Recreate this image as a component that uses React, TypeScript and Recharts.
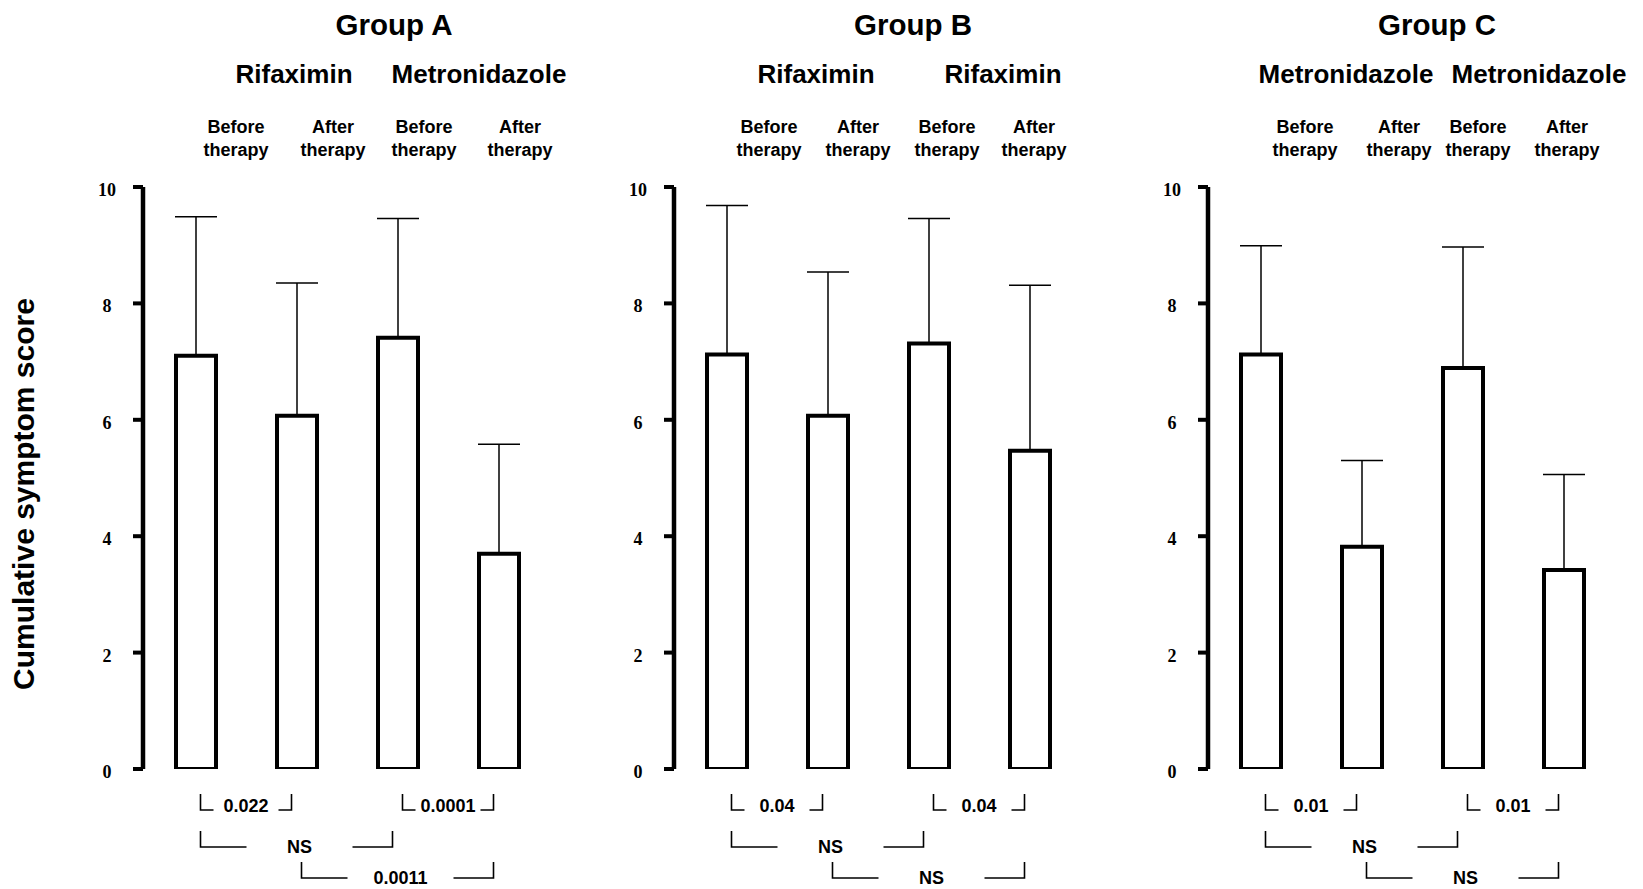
import React from 'react';
import { BarChart, Bar, XAxis, YAxis, ErrorBar } from 'recharts';

// ---------- data ----------
const categories = ['Before therapy', 'After therapy', 'Before therapy', 'After therapy'];
const groupTitles = ['Group A', 'Group B', 'Group C'];
const drugLabelsA = ['Rifaximin', 'Metronidazole'];
const drugLabelsB = ['Rifaximin', 'Rifaximin'];
const drugLabelsC = ['Metronidazole', 'Metronidazole'];

const groupAMeans = [7.1, 6.07, 7.41, 3.7];
const groupASD = [2.39, 2.28, 2.05, 1.88];
const groupBMeans = [7.12, 6.07, 7.31, 5.47];
const groupBSD = [2.56, 2.47, 2.15, 2.84];
const groupCMeans = [7.12, 3.82, 6.89, 3.42];
const groupCSD = [1.87, 1.48, 2.08, 1.64];

const yTicks = [0, 2, 4, 6, 8, 10];

const groupABrackets = [
  { from: 0, to: 1, label: '0.022', row: 0 },
  { from: 2, to: 3, label: '0.0001', row: 0 },
  { from: 0, to: 2, label: 'NS', row: 1 },
  { from: 1, to: 3, label: '0.0011', row: 2 },
];
const groupBBrackets = [
  { from: 0, to: 1, label: '0.04', row: 0 },
  { from: 2, to: 3, label: '0.04', row: 0 },
  { from: 0, to: 2, label: 'NS', row: 1 },
  { from: 1, to: 3, label: 'NS', row: 2 },
];
const groupCBrackets = [
  { from: 0, to: 1, label: '0.01', row: 0 },
  { from: 2, to: 3, label: '0.01', row: 0 },
  { from: 0, to: 2, label: 'NS', row: 1 },
  { from: 1, to: 3, label: 'NS', row: 2 },
];

const yLabel = 'Cumulative symptom score';

// ---------- layout ----------
const AXIS_W = 60;
const PLOT_TOP = 187;
const PLOT_H = 582;
const PLOT_W = 406;
const PAD_L = 2;
const BAND = (PLOT_W - PAD_L) / 4;
const CHART_TOP = 165;
const M_TOP = PLOT_TOP - CHART_TOP;
const M_RIGHT = 12;
const M_BOTTOM = 22;

const panels = [
  {
    axisX: 143, title: groupTitles[0], drugs: drugLabelsA, means: groupAMeans, sds: groupASD, brackets: groupABrackets,
    titleX: 394, drugX: [294, 479], therapyX: [236, 333, 424, 520],
  },
  {
    axisX: 674, title: groupTitles[1], drugs: drugLabelsB, means: groupBMeans, sds: groupBSD, brackets: groupBBrackets,
    titleX: 913, drugX: [816, 1003], therapyX: [769, 858, 947, 1034],
  },
  {
    axisX: 1208, title: groupTitles[2], drugs: drugLabelsC, means: groupCMeans, sds: groupCSD, brackets: groupCBrackets,
    titleX: 1437, drugX: [1346, 1539], therapyX: [1305, 1399, 1478, 1567],
  },
];

const SANS = "'Liberation Sans', Arial, Helvetica, sans-serif";
const SERIF = "'Liberation Serif', 'Times New Roman', serif";

const ROW_LINE_Y = [810, 847, 878];
const ROW_TEXT_Y = [812, 853, 884];

const YTick = (props: any) => {
  const { x, y, payload } = props;
  return (
    <text x={x - 26} y={y + 3} textAnchor="middle" dominantBaseline="central"
      fontFamily={SERIF} fontWeight="bold" fontSize={18} fill="#000">
      {payload.value}
    </text>
  );
};

function Panel({ p }: { p: any }) {
  const data = categories.map((c, i) => ({
    name: `${c}-${i}`,
    value: p.means[i],
    err: [0, p.sds[i]],
  }));
  return (
    <div style={{ position: 'absolute', left: p.axisX - AXIS_W, top: CHART_TOP }}>
      <BarChart
        width={AXIS_W + PLOT_W + M_RIGHT}
        height={M_TOP + PLOT_H + M_BOTTOM}
        data={data}
        margin={{ top: M_TOP, right: M_RIGHT, bottom: M_BOTTOM, left: 0 }}
      >
        <XAxis dataKey="name" hide padding={{ left: PAD_L, right: 0 }} />
        <YAxis
          width={AXIS_W}
          domain={[0, 10]}
          ticks={yTicks}
          interval={0}
          allowDataOverflow
          axisLine={{ stroke: '#000', strokeWidth: 4.5 }}
          tickLine={{ stroke: '#000', strokeWidth: 4 }}
          tickSize={10}
          tickMargin={0}
          tick={<YTick />}
        />
        <Bar dataKey="value" fill="#fff" stroke="#000" strokeWidth={4} barSize={40} isAnimationActive={false}>
          <ErrorBar dataKey="err" width={21} stroke="#000" strokeWidth={1.5} direction="y" />
        </Bar>
      </BarChart>
    </div>
  );
}

function Brackets({ p }: { p: any }) {
  const center = (i: number) => p.axisX + PAD_L + BAND * (i + 0.5);
  return (
    <g>
      {p.brackets.map((b: any, k: number) => {
        const L = center(b.from) + 5;
        const R = center(b.to) - 5;
        const ly = ROW_LINE_Y[b.row];
        const segL = b.row === 0 ? 13 : 46;
        const segR = b.row === 0 ? 13 : 40;
        const tx = (L + R) / 2 + (b.row === 0 ? 0 : 3);
        return (
          <g key={k}>
            <polyline points={`${L},${ly - 16} ${L},${ly} ${L + segL},${ly}`} fill="none" stroke="#000" strokeWidth={1.6} />
            <polyline points={`${R - segR},${ly} ${R},${ly} ${R},${ly - 16}`} fill="none" stroke="#000" strokeWidth={1.6} />
            <text x={tx} y={ROW_TEXT_Y[b.row]} textAnchor="middle" fontFamily={SANS} fontWeight="bold" fontSize={18} fill="#000">
              {b.label}
            </text>
          </g>
        );
      })}
    </g>
  );
}

export default function App() {
  return (
    <div style={{ position: 'absolute', left: 0, top: 0, width: 1643, height: 889, background: '#fff', overflow: 'hidden' }}>
      {panels.map((p, i) => (
        <Panel key={i} p={p} />
      ))}
      <svg width={1643} height={889} style={{ position: 'absolute', left: 0, top: 0, pointerEvents: 'none' }}>
        <text transform="translate(34,494) rotate(-90)" textAnchor="middle" fontFamily={SANS} fontWeight="bold" fontSize={30} fill="#000">
          {yLabel}
        </text>
        {panels.map((p, i) => (
          <g key={i}>
            <text x={p.titleX} y={35} textAnchor="middle" fontFamily={SANS} fontWeight="bold" fontSize={29.5} fill="#000">
              {p.title}
            </text>
            {p.drugs.map((d: string, j: number) => (
              <text key={j} x={p.drugX[j]} y={83} textAnchor="middle" fontFamily={SANS} fontWeight="bold" fontSize={26} fill="#000">
                {d}
              </text>
            ))}
            {categories.map((c, j) => {
              const [w1, w2] = c.split(' ');
              return (
                <text key={j} x={p.therapyX[j]} textAnchor="middle" fontFamily={SANS} fontWeight="bold" fontSize={18} fill="#000">
                  <tspan x={p.therapyX[j]} y={133}>{w1}</tspan>
                  <tspan x={p.therapyX[j]} y={156}>{w2}</tspan>
                </text>
              );
            })}
            <Brackets p={p} />
          </g>
        ))}
      </svg>
    </div>
  );
}
